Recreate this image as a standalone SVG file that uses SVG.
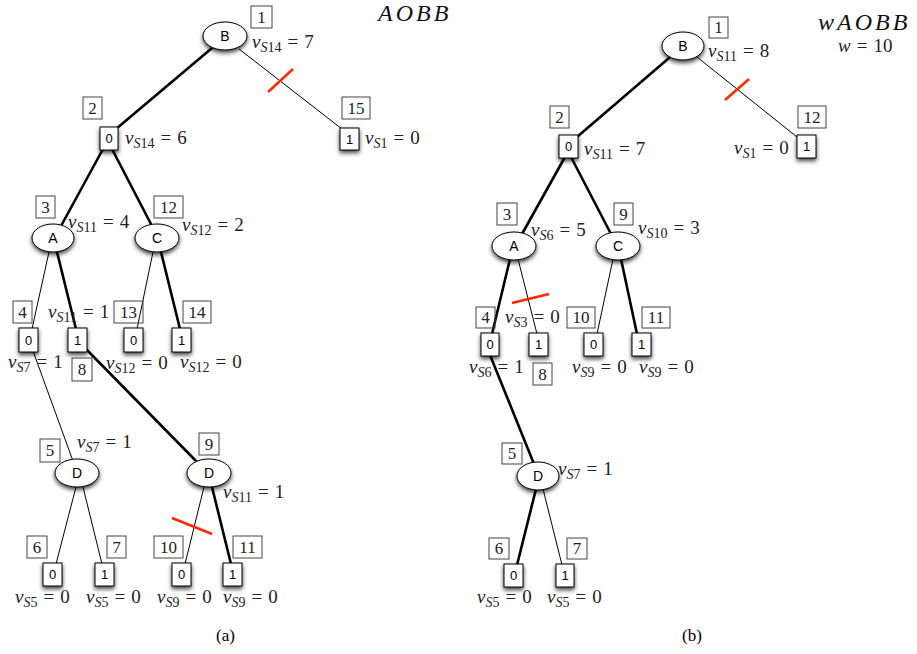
<svg xmlns="http://www.w3.org/2000/svg" width="917" height="654" viewBox="0 0 917 654">
<style>
.thick{stroke:#000;stroke-width:2.6;fill:none;stroke-linecap:round}
.thin{stroke:#000;stroke-width:1;fill:none}
.cut{stroke:#ff2a00;stroke-width:2.6;fill:none}
.nd{fill:#fff;stroke:#000;stroke-width:1;filter:url(#sh)}
.nt{font-family:"Liberation Sans",Arial,sans-serif;font-size:14px;text-anchor:middle;fill:#000}
.lf{font-size:13px}
.lb{fill:none;stroke:#444;stroke-width:1}
.lt{font-family:"Liberation Serif","Times New Roman",serif;font-size:17px;text-anchor:middle;fill:#222}
.m{font-family:"Liberation Serif","Times New Roman",serif;font-size:19px;fill:#222}
.i{font-style:italic}
.s{font-size:14px}
.cap{font-family:"Liberation Serif","Times New Roman",serif;font-size:17px;fill:#000}
.ttl{font-family:"Liberation Serif","Times New Roman",serif;font-size:24px;font-style:italic;letter-spacing:3px;fill:#111}
</style>
<defs>
<filter id="sh" x="-50%" y="-50%" width="200%" height="200%">
<feDropShadow dx="0" dy="2.5" stdDeviation="2" flood-color="#000" flood-opacity="0.75"/>
</filter>
</defs>

<g id="connectors">
<!-- (a) -->
<line class="thick" x1="212" y1="48" x2="116" y2="129"/>
<line class="thin" x1="239" y1="49" x2="342" y2="129"/>
<line class="thick" x1="103" y1="149" x2="61" y2="226"/>
<line class="thick" x1="112" y1="149" x2="152" y2="226"/>
<line class="thin" x1="49" y1="252" x2="32" y2="329"/>
<line class="thick" x1="57" y1="252" x2="76" y2="329"/>
<line class="thin" x1="153" y1="252" x2="137" y2="329"/>
<line class="thick" x1="161" y1="252" x2="180" y2="329"/>
<line class="thin" x1="33" y1="351" x2="73" y2="461"/>
<line class="thick" x1="86" y1="349" x2="197" y2="462"/>
<line class="thin" x1="76" y1="487" x2="56" y2="564"/>
<line class="thin" x1="83" y1="487" x2="102" y2="564"/>
<line class="thin" x1="204" y1="487" x2="185" y2="564"/>
<line class="thick" x1="212" y1="487" x2="231" y2="564"/>
<line class="cut" x1="268" y1="92" x2="293" y2="69"/>
<line class="cut" x1="172" y1="518" x2="212" y2="534"/>
<!-- (b) -->
<line class="thick" x1="669" y1="58" x2="577" y2="137"/>
<line class="thin" x1="697" y1="57" x2="797" y2="137"/>
<line class="thick" x1="565" y1="157" x2="522" y2="234"/>
<line class="thick" x1="571" y1="157" x2="611" y2="234"/>
<line class="thick" x1="510" y1="259" x2="492" y2="334"/>
<line class="thin" x1="518" y1="259" x2="537" y2="334"/>
<line class="thin" x1="613" y1="259" x2="597" y2="334"/>
<line class="thick" x1="621" y1="259" x2="637" y2="334"/>
<line class="thick" x1="490" y1="355" x2="534" y2="464"/>
<line class="thick" x1="536" y1="489" x2="517" y2="565"/>
<line class="thin" x1="543" y1="489" x2="562" y2="565"/>
<line class="cut" x1="725" y1="100" x2="749" y2="79"/>
<line class="cut" x1="512" y1="303" x2="549" y2="294"/>
</g>

<!-- ===== (a) AOBB ===== -->
<text class="ttl" x="378" y="21">AOBB</text>

<g id="a1">
<ellipse class="nd" cx="225" cy="36" rx="22" ry="14"/>
<text class="nt" x="225" y="41">B</text>
<rect class="lb" x="251" y="6" width="21" height="22"/><text class="lt" x="261.5" y="23">1</text>
<text class="m" x="252" y="48"><tspan class="i">v</tspan><tspan class="s" dy="4"><tspan class="i">S</tspan>14</tspan><tspan dy="-4" dx="6">=</tspan><tspan dx="6">7</tspan></text>
</g>

<g id="a2">
<rect class="nd" x="100" y="127" width="18" height="23"/>
<text class="nt lf" x="109" y="143">0</text>
<rect class="lb" x="83" y="97" width="19" height="22"/><text class="lt" x="92.5" y="114">2</text>
<text class="m" x="125" y="144"><tspan class="i">v</tspan><tspan class="s" dy="4"><tspan class="i">S</tspan>14</tspan><tspan dy="-4" dx="6">=</tspan><tspan dx="6">6</tspan></text>
</g>

<g id="a15">
<rect class="nd" x="340" y="128" width="19" height="22"/>
<text class="nt lf" x="349.5" y="144">1</text>
<rect class="lb" x="342" y="97" width="28" height="22"/><text class="lt" x="356" y="114">15</text>
<text class="m" x="365" y="144"><tspan class="i">v</tspan><tspan class="s" dy="4"><tspan class="i">S</tspan>1</tspan><tspan dy="-4" dx="6">=</tspan><tspan dx="6">0</tspan></text>
</g>

<g id="a3">
<ellipse class="nd" cx="53" cy="238" rx="21" ry="14"/>
<text class="nt" x="53" y="243">A</text>
<rect class="lb" x="36" y="196" width="19" height="22"/><text class="lt" x="45.5" y="213">3</text>
<text class="m" x="68" y="228"><tspan class="i">v</tspan><tspan class="s" dy="4"><tspan class="i">S</tspan>11</tspan><tspan dy="-4" dx="6">=</tspan><tspan dx="6">4</tspan></text>
</g>

<g id="a12">
<ellipse class="nd" cx="157" cy="238" rx="22" ry="14"/>
<text class="nt" x="157" y="243">C</text>
<rect class="lb" x="154" y="196" width="29" height="22"/><text class="lt" x="168.5" y="213">12</text>
<text class="m" x="182" y="231"><tspan class="i">v</tspan><tspan class="s" dy="4"><tspan class="i">S</tspan>12</tspan><tspan dy="-4" dx="6">=</tspan><tspan dx="6">2</tspan></text>
</g>

<g id="a4">
<rect class="nd" x="19" y="328" width="19" height="24"/>
<text class="nt lf" x="28.5" y="345">0</text>
<rect class="lb" x="13" y="301" width="19" height="22"/><text class="lt" x="22.5" y="318">4</text>
<text class="m" x="8" y="368"><tspan class="i">v</tspan><tspan class="s" dy="4"><tspan class="i">S</tspan>7</tspan><tspan dy="-4" dx="6">=</tspan><tspan dx="6">1</tspan></text>
</g>

<g id="a8">
<rect class="nd" x="68" y="328" width="19" height="24"/>
<text class="nt lf" x="77.5" y="345">1</text>
<rect class="lb" x="72" y="358" width="20" height="23"/><text class="lt" x="82" y="375">8</text>
<text class="m" x="48" y="318"><tspan class="i">v</tspan><tspan class="s" dy="4"><tspan class="i">S</tspan>11</tspan><tspan dy="-4" dx="6">=</tspan><tspan dx="6">1</tspan></text>
</g>

<g id="a13">
<rect class="nd" x="124" y="328" width="19" height="24"/>
<text class="nt lf" x="133.5" y="345">0</text>
<rect class="lb" x="114" y="301" width="29" height="22"/><text class="lt" x="128.5" y="318">13</text>
<text class="m" x="106" y="369"><tspan class="i">v</tspan><tspan class="s" dy="4"><tspan class="i">S</tspan>12</tspan><tspan dy="-4" dx="6">=</tspan><tspan dx="6">0</tspan></text>
</g>

<g id="a14">
<rect class="nd" x="172" y="328" width="19" height="24"/>
<text class="nt lf" x="181.5" y="345">1</text>
<rect class="lb" x="183" y="301" width="28" height="22"/><text class="lt" x="197" y="318">14</text>
<text class="m" x="180" y="368"><tspan class="i">v</tspan><tspan class="s" dy="4"><tspan class="i">S</tspan>12</tspan><tspan dy="-4" dx="6">=</tspan><tspan dx="6">0</tspan></text>
</g>

<g id="a5">
<ellipse class="nd" cx="77" cy="473" rx="22" ry="14"/>
<text class="nt" x="77" y="478">D</text>
<rect class="lb" x="40" y="439" width="20" height="23"/><text class="lt" x="50" y="456">5</text>
<text class="m" x="77" y="448"><tspan class="i">v</tspan><tspan class="s" dy="4"><tspan class="i">S</tspan>7</tspan><tspan dy="-4" dx="6">=</tspan><tspan dx="6">1</tspan></text>
</g>

<g id="a9">
<ellipse class="nd" cx="209" cy="473" rx="22" ry="14"/>
<text class="nt" x="209" y="478">D</text>
<rect class="lb" x="199" y="433" width="20" height="22"/><text class="lt" x="209" y="450">9</text>
<text class="m" x="223" y="498"><tspan class="i">v</tspan><tspan class="s" dy="4"><tspan class="i">S</tspan>11</tspan><tspan dy="-4" dx="6">=</tspan><tspan dx="6">1</tspan></text>
</g>

<g id="a6">
<rect class="nd" x="43" y="563" width="19" height="23"/>
<text class="nt lf" x="52.5" y="579">0</text>
<rect class="lb" x="27" y="536" width="20" height="22"/><text class="lt" x="37" y="553">6</text>
<text class="m" x="15" y="603"><tspan class="i">v</tspan><tspan class="s" dy="4"><tspan class="i">S</tspan>5</tspan><tspan dy="-4" dx="6">=</tspan><tspan dx="6">0</tspan></text>
</g>

<g id="a7">
<rect class="nd" x="95" y="563" width="19" height="23"/>
<text class="nt lf" x="104.5" y="579">1</text>
<rect class="lb" x="107" y="536" width="19" height="22"/><text class="lt" x="116.5" y="553">7</text>
<text class="m" x="86" y="603"><tspan class="i">v</tspan><tspan class="s" dy="4"><tspan class="i">S</tspan>5</tspan><tspan dy="-4" dx="6">=</tspan><tspan dx="6">0</tspan></text>
</g>

<g id="a10">
<rect class="nd" x="172" y="563" width="19" height="23"/>
<text class="nt lf" x="181.5" y="579">0</text>
<rect class="lb" x="154" y="536" width="29" height="22"/><text class="lt" x="168.5" y="553">10</text>
<text class="m" x="157" y="603"><tspan class="i">v</tspan><tspan class="s" dy="4"><tspan class="i">S</tspan>9</tspan><tspan dy="-4" dx="6">=</tspan><tspan dx="6">0</tspan></text>
</g>

<g id="a11">
<rect class="nd" x="223" y="563" width="19" height="23"/>
<text class="nt lf" x="232.5" y="579">1</text>
<rect class="lb" x="233" y="536" width="29" height="22"/><text class="lt" x="247.5" y="553">11</text>
<text class="m" x="223" y="603"><tspan class="i">v</tspan><tspan class="s" dy="4"><tspan class="i">S</tspan>9</tspan><tspan dy="-4" dx="6">=</tspan><tspan dx="6">0</tspan></text>
</g>

<text class="cap" x="216" y="641">(a)</text>

<!-- ===== (b) wAOBB ===== -->
<text class="ttl" x="818" y="30">wAOBB</text>
<text class="m" x="838" y="52"><tspan class="i">w</tspan><tspan dx="6">=</tspan><tspan dx="6">10</tspan></text>

<g id="b1">
<ellipse class="nd" cx="683" cy="46" rx="21" ry="14"/>
<text class="nt" x="683" y="51">B</text>
<rect class="lb" x="709" y="17" width="19" height="21"/><text class="lt" x="718.5" y="33">1</text>
<text class="m" x="708" y="57"><tspan class="i">v</tspan><tspan class="s" dy="4"><tspan class="i">S</tspan>11</tspan><tspan dy="-4" dx="6">=</tspan><tspan dx="6">8</tspan></text>
</g>

<g id="b2">
<rect class="nd" x="559" y="135" width="19" height="23"/>
<text class="nt lf" x="568.5" y="151">0</text>
<rect class="lb" x="550" y="106" width="19" height="22"/><text class="lt" x="559.5" y="123">2</text>
<text class="m" x="584" y="155"><tspan class="i">v</tspan><tspan class="s" dy="4"><tspan class="i">S</tspan>11</tspan><tspan dy="-4" dx="6">=</tspan><tspan dx="6">7</tspan></text>
</g>

<g id="b12">
<rect class="nd" x="797" y="135" width="19" height="23"/>
<text class="nt lf" x="806.5" y="151">1</text>
<rect class="lb" x="798" y="106" width="28" height="22"/><text class="lt" x="812" y="123">12</text>
<text class="m" x="734" y="154"><tspan class="i">v</tspan><tspan class="s" dy="4"><tspan class="i">S</tspan>1</tspan><tspan dy="-4" dx="6">=</tspan><tspan dx="6">0</tspan></text>
</g>

<g id="b3">
<ellipse class="nd" cx="514" cy="246" rx="22" ry="14"/>
<text class="nt" x="514" y="251">A</text>
<rect class="lb" x="497" y="203" width="20" height="22"/><text class="lt" x="507" y="220">3</text>
<text class="m" x="531" y="236"><tspan class="i">v</tspan><tspan class="s" dy="4"><tspan class="i">S</tspan>6</tspan><tspan dy="-4" dx="6">=</tspan><tspan dx="6">5</tspan></text>
</g>

<g id="b9">
<ellipse class="nd" cx="618" cy="246" rx="22" ry="14"/>
<text class="nt" x="618" y="251">C</text>
<rect class="lb" x="614" y="203" width="19" height="22"/><text class="lt" x="623.5" y="220">9</text>
<text class="m" x="638" y="234"><tspan class="i">v</tspan><tspan class="s" dy="4"><tspan class="i">S</tspan>10</tspan><tspan dy="-4" dx="6">=</tspan><tspan dx="6">3</tspan></text>
</g>

<g id="b4">
<rect class="nd" x="481" y="333" width="18" height="23"/>
<text class="nt lf" x="490" y="349">0</text>
<rect class="lb" x="476" y="307" width="19" height="21"/><text class="lt" x="485.5" y="323">4</text>
<text class="m" x="469" y="373"><tspan class="i">v</tspan><tspan class="s" dy="4"><tspan class="i">S</tspan>6</tspan><tspan dy="-4" dx="6">=</tspan><tspan dx="6">1</tspan></text>
</g>

<g id="b8">
<rect class="nd" x="529" y="333" width="19" height="23"/>
<text class="nt lf" x="538.5" y="349">1</text>
<rect class="lb" x="533" y="363" width="19" height="22"/><text class="lt" x="542.5" y="380">8</text>
<text class="m" x="505" y="323"><tspan class="i">v</tspan><tspan class="s" dy="4"><tspan class="i">S</tspan>3</tspan><tspan dy="-4" dx="6">=</tspan><tspan dx="6">0</tspan></text>
</g>

<g id="b10">
<rect class="nd" x="584" y="333" width="19" height="23"/>
<text class="nt lf" x="593.5" y="349">0</text>
<rect class="lb" x="567" y="307" width="28" height="21"/><text class="lt" x="581" y="323">10</text>
<text class="m" x="572" y="373"><tspan class="i">v</tspan><tspan class="s" dy="4"><tspan class="i">S</tspan>9</tspan><tspan dy="-4" dx="6">=</tspan><tspan dx="6">0</tspan></text>
</g>

<g id="b11">
<rect class="nd" x="632" y="333" width="19" height="23"/>
<text class="nt lf" x="641.5" y="349">1</text>
<rect class="lb" x="642" y="307" width="28" height="21"/><text class="lt" x="656" y="323">11</text>
<text class="m" x="639" y="373"><tspan class="i">v</tspan><tspan class="s" dy="4"><tspan class="i">S</tspan>9</tspan><tspan dy="-4" dx="6">=</tspan><tspan dx="6">0</tspan></text>
</g>

<g id="b5">
<ellipse class="nd" cx="538" cy="476" rx="21" ry="14"/>
<text class="nt" x="538" y="481">D</text>
<rect class="lb" x="502" y="443" width="20" height="21"/><text class="lt" x="512" y="459">5</text>
<text class="m" x="558" y="475"><tspan class="i">v</tspan><tspan class="s" dy="4"><tspan class="i">S</tspan>7</tspan><tspan dy="-4" dx="6">=</tspan><tspan dx="6">1</tspan></text>
</g>

<g id="b6">
<rect class="nd" x="504" y="564" width="19" height="23"/>
<text class="nt lf" x="513.5" y="580">0</text>
<rect class="lb" x="489" y="538" width="20" height="21"/><text class="lt" x="499" y="554">6</text>
<text class="m" x="477" y="603"><tspan class="i">v</tspan><tspan class="s" dy="4"><tspan class="i">S</tspan>5</tspan><tspan dy="-4" dx="6">=</tspan><tspan dx="6">0</tspan></text>
</g>

<g id="b7">
<rect class="nd" x="556" y="564" width="18" height="23"/>
<text class="nt lf" x="565" y="580">1</text>
<rect class="lb" x="567" y="538" width="20" height="21"/><text class="lt" x="577" y="554">7</text>
<text class="m" x="547" y="603"><tspan class="i">v</tspan><tspan class="s" dy="4"><tspan class="i">S</tspan>5</tspan><tspan dy="-4" dx="6">=</tspan><tspan dx="6">0</tspan></text>
</g>

<text class="cap" x="682" y="641">(b)</text>
</svg>
